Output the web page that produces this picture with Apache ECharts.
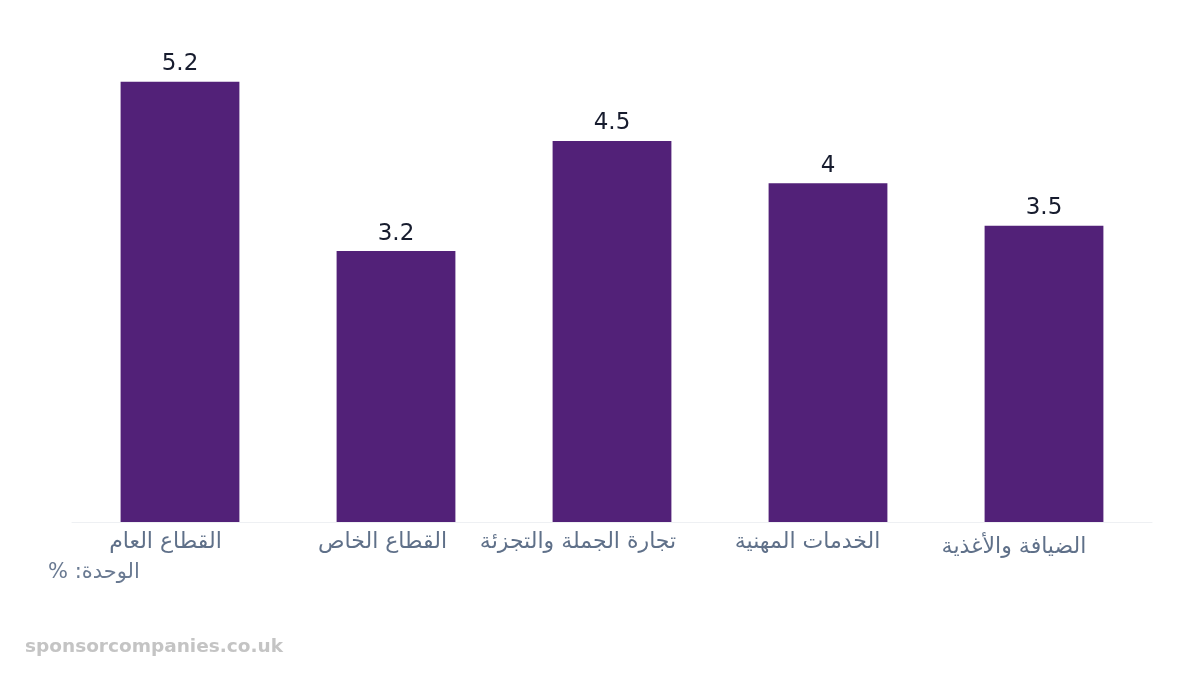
<!DOCTYPE html>
<html>
<head>
<meta charset="utf-8">
<title>Chart</title>
<style>
  html, body { margin: 0; padding: 0; background: #fff; }
  #chart { width: 1200px; height: 675px; }
</style>
</head>
<body>
<div id="chart"></div>
<script src="https://cdn.jsdelivr.net/npm/echarts@6/dist/echarts.min.js"></script>
<script>
var categories = ['القطاع العام', 'القطاع الخاص', 'تجارة الجملة والتجزئة', 'الخدمات المهنية', 'الضيافة والأغذية'];
var values = [5.2, 3.2, 4.5, 4, 3.5];
var unitLabel = 'الوحدة: %';
var sourceLabel = 'sponsorcompanies.co.uk';

// label nudges [top, right] so the RTL labels sit like the original
var labelPad = [[0, 29], [0, 27], [0, 68], [0, 41], [5, 60]];

var chart = echarts.init(document.getElementById('chart'));
chart.setOption({
  animation: false,
  grid: { left: 72, right: 48, top: 14, bottom: 153 },
  xAxis: {
    type: 'category',
    data: categories.map(function (c, i) {
      return { value: c, textStyle: { padding: [labelPad[i][0], labelPad[i][1], 0, 0] } };
    }),
    axisLine: { lineStyle: { color: '#eef0f3' } },
    axisTick: { show: false },
    axisLabel: {
      color: '#5f7089',
      fontFamily: 'DejaVu Sans',
      fontSize: 22,
      margin: 9,
      interval: 0
    }
  },
  yAxis: {
    type: 'value',
    min: 0,
    max: 6,
    show: false
  },
  series: [{
    type: 'bar',
    data: values,
    barWidth: '55%',
    itemStyle: { color: '#522178' },
    label: {
      show: true,
      position: 'top',
      distance: 6,
      color: '#171c2e',
      fontFamily: 'DejaVu Sans',
      fontSize: 23
    }
  }],
  graphic: [
    {
      type: 'text', left: 48, top: 562,
      style: { text: '\u202B' + unitLabel + '\u202C', fill: '#6a7a92', font: '21px "DejaVu Sans"' }
    },
    {
      type: 'text', left: 25, top: 638,
      style: { text: sourceLabel, fill: '#c4c4c4', font: 'bold 18.5px "DejaVu Sans"' }
    }
  ]
});
</script>
</body>
</html>
